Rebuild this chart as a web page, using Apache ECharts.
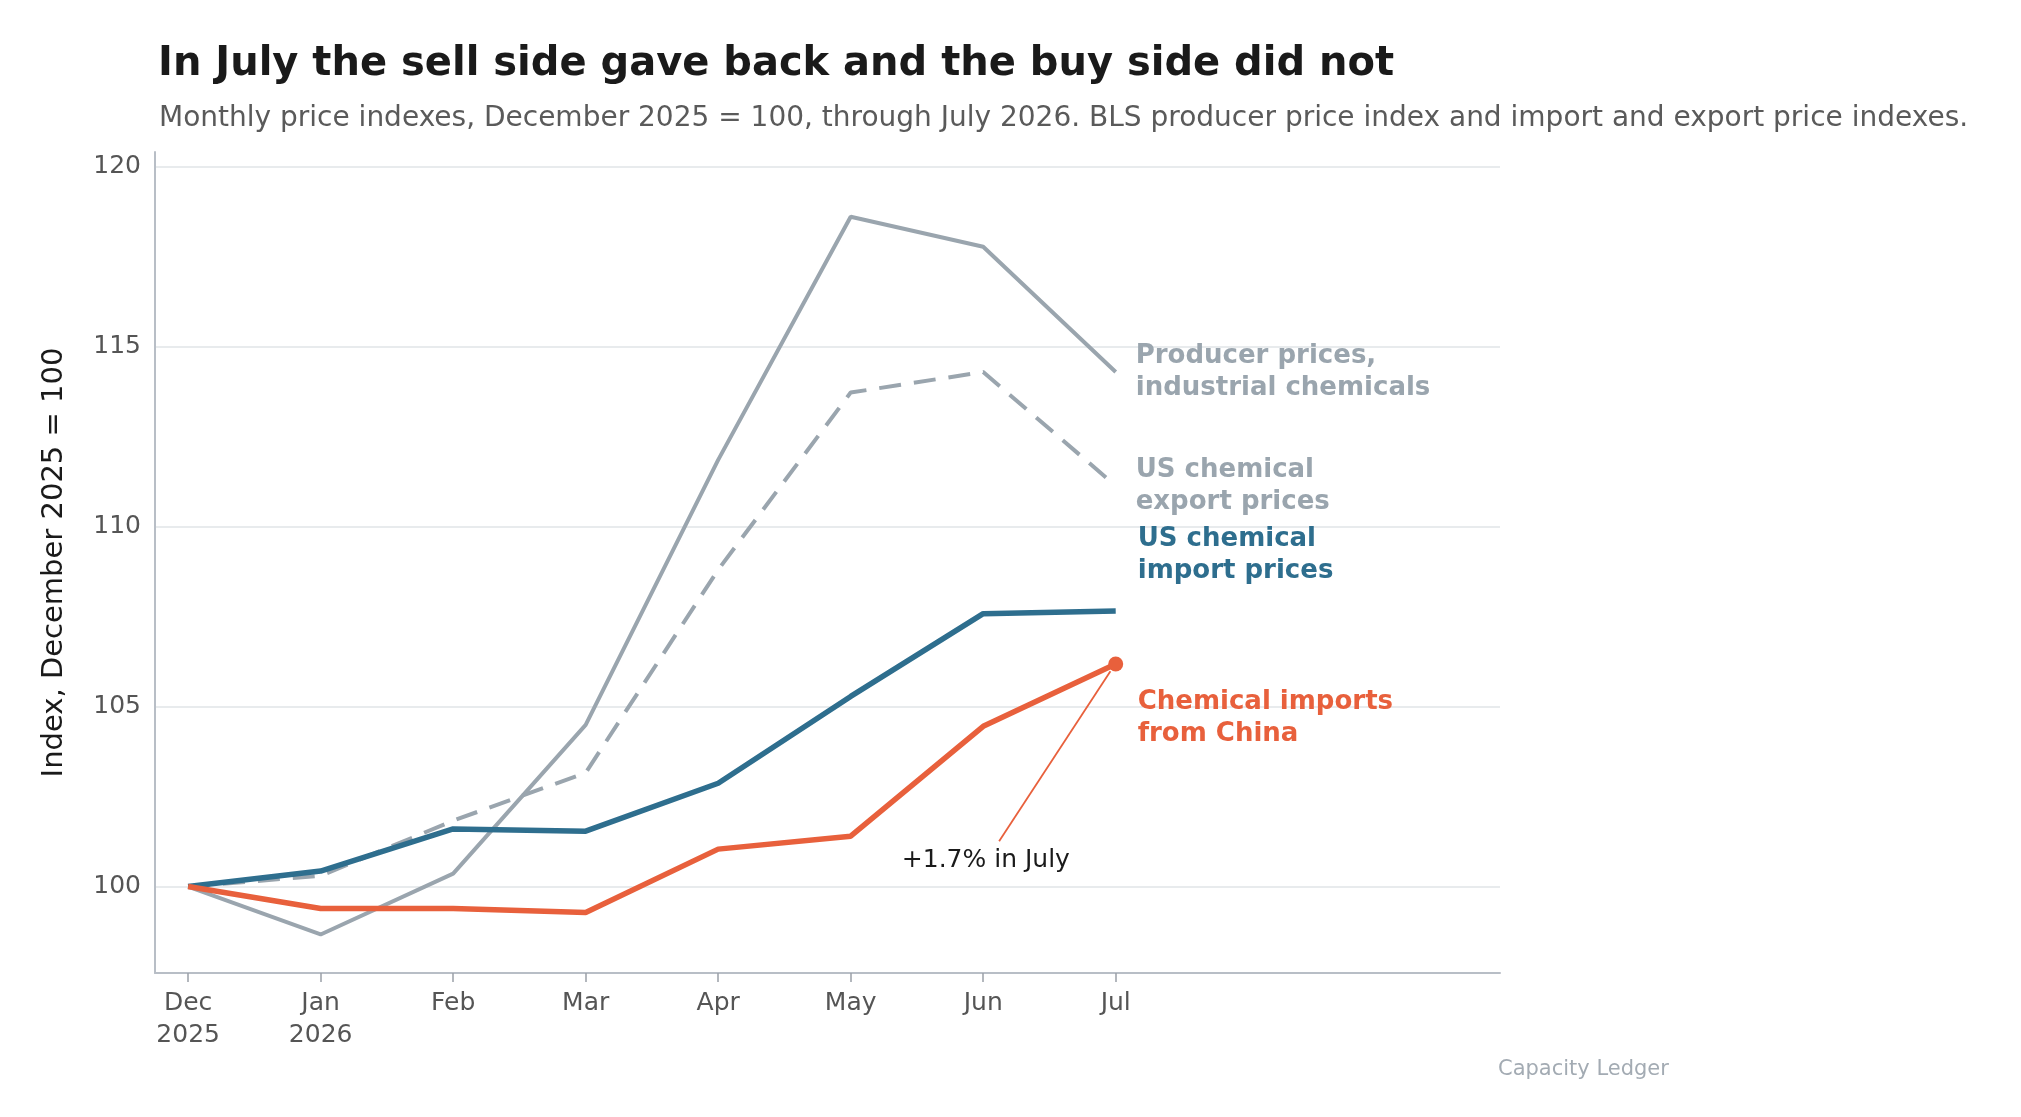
<!DOCTYPE html>
<html><head><meta charset="utf-8">
<script src="https://cdn.jsdelivr.net/npm/echarts@6/dist/echarts.min.js"></script>
<style>html,body{margin:0;padding:0;background:#fff}#chart{width:2021px;height:1117px}</style>
</head><body><div id="chart"></div>
<script>
// month labels and index values (Dec 2025 = 100)
var months = ['Dec\n2025', 'Jan\n2026', 'Feb', 'Mar', 'Apr', 'May', 'Jun', 'Jul'];
var producer = [100, 98.67, 100.36, 104.49, 111.85, 118.6, 117.77, 114.29];
var exportPx = [100, 100.3, 101.83, 103.16, 108.8, 113.72, 114.29, 111.13];
var importPx = [100, 100.43, 101.6, 101.54, 102.87, 105.28, 107.58, 107.65];
var china = [100, 99.39, 99.39, 99.28, 101.04, 101.4, 104.45, 106.18];

function pairs(arr) { return arr.map(function (v, i) { return [i, v]; }); }
var idx = months.map(function (m, i) { return i; });
var font = 'DejaVu Sans';

var myChart = echarts.init(document.getElementById('chart'));

function endLbl(text, color, off) {
    return { show: true, formatter: text, color: color, fontFamily: font, fontWeight: 'bold',
        fontSize: 26, lineHeight: 32, offset: off, distance: 0 };
}

var option = {
    animation: false,
    textStyle: { fontFamily: font },
    title: [
        { text: 'In July the sell side gave back and the buy side did not', left: 153, top: 40,
          textStyle: { fontFamily: font, fontSize: 40, fontWeight: 'bold', color: '#1a1a1a' } },
        { text: 'Monthly price indexes, December 2025 = 100, through July 2026. BLS producer price index and import and export price indexes.',
          left: 154, top: 100, textStyle: { fontFamily: font, fontSize: 28, fontWeight: 'normal', color: '#5a5a5a' } },
        { text: 'Capacity Ledger', left: 1493, top: 1054,
          textStyle: { fontFamily: font, fontSize: 21, fontWeight: 'normal', color: '#a3abb3' } }
    ],
    grid: { left: 155, right: 521, top: 152, bottom: 144 },
    xAxis: {
        type: 'value', min: -0.25, max: 9.9,
        axisLine: { onZero: false, lineStyle: { color: '#b8bec6', width: 2 } },
        axisTick: { customValues: idx, length: 9, lineStyle: { color: '#9aa0a8', width: 1.5 } },
        axisLabel: { customValues: idx, formatter: function (v) { return months[Math.round(v)]; },
            color: '#555', fontSize: 25, lineHeight: 32, margin: 14 },
        splitLine: { show: false }
    },
    yAxis: {
        type: 'value', min: 97.6, max: 120.4, splitNumber: 5,
        name: 'Index, December 2025 = 100', nameLocation: 'middle', nameGap: 86,
        nameTextStyle: { fontSize: 29, color: '#1a1a1a', fontFamily: font },
        axisLine: { show: true, onZero: false, lineStyle: { color: '#b8bec6', width: 2 } },
        axisTick: { show: false },
        axisLabel: { color: '#555', fontSize: 25, margin: 14, showMinLabel: false, showMaxLabel: false },
        splitLine: { showMinLine: false, showMaxLine: false, lineStyle: { color: '#e1e4e7', width: 1.5 } }
    },
    series: [
        { type: 'line', data: pairs(producer), symbol: 'none',
          lineStyle: { color: '#9aa5ae', width: 4 },
          endLabel: endLbl('Producer prices,\nindustrial chemicals', '#9aa5ae', [20, 0]) },
        { type: 'line', data: pairs(exportPx), symbol: 'none',
          lineStyle: { color: '#9aa5ae', width: 4, type: [22, 13] },
          endLabel: endLbl('US chemical\nexport prices', '#9aa5ae', [20, 0]) },
        { type: 'line', data: pairs(importPx), symbol: 'none',
          lineStyle: { color: '#2e6e8e', width: 5.5 },
          endLabel: endLbl('US chemical\nimport prices', '#2e6e8e', [22, -56]) },
        { type: 'line', data: pairs(china), symbol: 'none',
          lineStyle: { color: '#e8603c', width: 5.5 },
          endLabel: endLbl('Chemical imports\nfrom China', '#e8603c', [22, 54]) ,
          markPoint: {
              silent: true,
              data: [
                  { coord: [7, china[7]], symbol: 'circle', symbolSize: 15,
                    itemStyle: { color: '#e8603c' }, label: { show: false } },
                  { coord: [6.02, 100.72], symbol: 'circle', symbolSize: 2,
                    itemStyle: { color: 'rgba(0,0,0,0)' },
                    label: { show: true, position: 'inside', formatter: '+1.7% in July',
                        color: '#1a1a1a', fontSize: 25, fontFamily: font } }
              ]
          },
          markLine: {
              silent: true, symbol: 'none',
              lineStyle: { color: '#e8603c', width: 1.8, type: 'solid' },
              label: { show: false },
              data: [[{ coord: [6.12, 101.26] }, { coord: [6.96, 105.98] }]]
          } }
    ]
};
myChart.setOption(option);
</script></body></html>
